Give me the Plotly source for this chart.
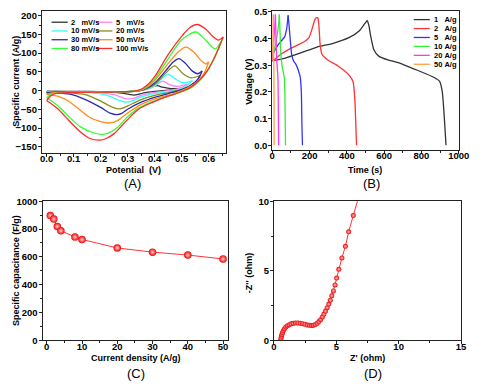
import plotly.graph_objects as go

W, H = 483, 387
F = "Liberation Sans, Arial, sans-serif"

# ---------------- Panel A: CV curves (E in V, I in A/g) ----------------
cv_rates = ["2", "5", "10", "20", "30", "50", "80", "100"]
cv_colors = ["#333333", "#FF80FF", "#33FFFF", "#8C8C1E", "#2B2BB0", "#FF8C1A", "#33FF33", "#FF2A2A"]

cv2_fwd_E = [0, 0.3, 0.34, 0.37, 0.39, 0.41, 0.43, 0.46, 0.5]
cv2_fwd_I = [-2, -3, -1, 4, 10, 13, 9, 5, 6]
cv2_rev_E = [0.5, 0.46, 0.4, 0.36, 0.335, 0.324, 0.305, 0.27, 0.22, 0.15, 0]
cv2_rev_I = [6, 2, -2, -6, -11, -12, -10, -6, -3, -2, -2]

cv5_fwd_E = [0, 0.3, 0.34, 0.37, 0.4, 0.43, 0.455, 0.485, 0.52]
cv5_fwd_I = [-3, -3, -1, 3, 12, 25, 16, 11, 17]
cv5_rev_E = [0.52, 0.49, 0.45, 0.4, 0.35, 0.32, 0.303, 0.28, 0.25, 0.2, 0.15, 0]
cv5_rev_I = [17, 5, 0, -5, -13, -21, -23, -19, -11, -6, -4, -3]

cv10_fwd_E = [0, 0.03, 0.3, 0.34, 0.37, 0.4, 0.43, 0.45, 0.475, 0.505, 0.54]
cv10_fwd_I = [-4, -3, -3, -1, 4, 13, 35, 44, 32, 21, 26]
cv10_rev_E = [0.54, 0.51, 0.46, 0.4, 0.35, 0.32, 0.296, 0.27, 0.24, 0.2, 0.15, 0.1, 0]
cv10_rev_I = [26, 9, -2, -8, -17, -27, -31, -27, -17, -9, -5, -4, -4]

cv20_fwd_E = [0, 0.03, 0.3, 0.34, 0.37, 0.4, 0.44, 0.475, 0.505, 0.535, 0.57]
cv20_fwd_I = [-5, -4, -3, -1, 5, 16, 46, 66, 45, 34, 41]
cv20_rev_E = [0.57, 0.55, 0.51, 0.46, 0.4, 0.35, 0.3, 0.274, 0.245, 0.2, 0.15, 0.1, 0.05, 0]
cv20_rev_I = [41, 22, 6, -4, -13, -24, -41, -49, -45, -28, -12, -7, -5, -5]

cv30_fwd_E = [0, 0.03, 0.2, 0.3, 0.34, 0.37, 0.4, 0.44, 0.47, 0.49, 0.515, 0.54, 0.56, 0.576]
cv30_fwd_I = [-6, -4, -3, -3, -1, 6, 20, 52, 77, 85.5, 72, 52, 45, 52]
cv30_rev_E = [0.576, 0.56, 0.53, 0.49, 0.45, 0.4, 0.35, 0.3, 0.28, 0.26, 0.235, 0.2, 0.15, 0.1, 0.05, 0]
cv30_rev_I = [52, 30, 12, 0, -8, -18, -31, -50, -60, -64, -60, -45, -26, -12, -7, -6]

cv50_fwd_E = [0, 0.02, 0.06, 0.2, 0.3, 0.34, 0.37, 0.4, 0.45, 0.49, 0.516, 0.545, 0.57, 0.59, 0.6]
cv50_fwd_I = [-10, -6, -4, -3, -3, -1, 8, 27, 72, 105, 116, 103, 82, 71, 77]
cv50_rev_E = [0.6, 0.585, 0.56, 0.52, 0.47, 0.4, 0.35, 0.3, 0.26, 0.234, 0.2, 0.16, 0.12, 0.08, 0.04, 0]
cv50_rev_I = [77, 48, 25, 6, -8, -22, -37, -60, -81, -86.5, -83, -72, -50, -28, -15, -10]

cv80_fwd_E = [0, 0.015, 0.05, 0.15, 0.28, 0.33, 0.354, 0.378, 0.402, 0.45, 0.5, 0.552, 0.585, 0.624, 0.654]
cv80_fwd_I = [-19, -10, -6, -4, -3, -1, 4, 15, 33, 85, 135, 156.5, 138, 111.5, 142]
cv80_rev_E = [0.654, 0.642, 0.618, 0.594, 0.57, 0.534, 0.486, 0.45, 0.39, 0.34, 0.3, 0.26, 0.23, 0.208, 0.17, 0.125, 0.08, 0.04, 0.013, 0]
cv80_rev_I = [142, 120, 81, 50, 29, 7, -7, -15, -30, -47, -70, -100, -113, -117, -112, -97, -68, -40, -25, -19]

cv100_fwd_E = [0, 0.015, 0.04, 0.1, 0.2, 0.28, 0.33, 0.354, 0.378, 0.402, 0.45, 0.504, 0.53, 0.558, 0.59, 0.615, 0.636, 0.654]
cv100_fwd_I = [-27, -14, -7, -5, -4, -3, -1, 5, 18, 39, 96, 148, 168, 176.5, 164, 145, 135, 143.5]
cv100_rev_E = [0.654, 0.642, 0.618, 0.594, 0.57, 0.534, 0.486, 0.45, 0.39, 0.34, 0.29, 0.25, 0.22, 0.198, 0.16, 0.121, 0.08, 0.04, 0.013, 0]
cv100_rev_I = [143.5, 122, 83, 52, 31, 9, -6.5, -15, -32, -50, -85, -115, -128, -132.5, -128, -108, -78, -48, -33, -27]

cv_data = [
    (cv2_fwd_E, cv2_fwd_I, cv2_rev_E, cv2_rev_I),
    (cv5_fwd_E, cv5_fwd_I, cv5_rev_E, cv5_rev_I),
    (cv10_fwd_E, cv10_fwd_I, cv10_rev_E, cv10_rev_I),
    (cv20_fwd_E, cv20_fwd_I, cv20_rev_E, cv20_rev_I),
    (cv30_fwd_E, cv30_fwd_I, cv30_rev_E, cv30_rev_I),
    (cv50_fwd_E, cv50_fwd_I, cv50_rev_E, cv50_rev_I),
    (cv80_fwd_E, cv80_fwd_I, cv80_rev_E, cv80_rev_I),
    (cv100_fwd_E, cv100_fwd_I, cv100_rev_E, cv100_rev_I),
]

# ---------------- Panel B: charge-discharge (t in s, V) ----------------
gcd_labels = ["1", "2", "5", "10", "20", "50"]
gcd_colors = ["#333333", "#FF3333", "#3333FF", "#33EE33", "#FF33FF", "#FFA040"]

gcd1_ch_t = [0, 66, 153, 240, 327, 414, 466, 495, 510]
gcd1_ch_V = [0.317, 0.326, 0.346, 0.368, 0.382, 0.404, 0.428, 0.455, 0.468]
gcd1_dis_t = [510, 518, 527, 545, 571, 620, 675, 779, 866, 897, 912, 925, 932]
gcd1_dis_V = [0.468, 0.45, 0.413, 0.358, 0.334, 0.32, 0.31, 0.281, 0.255, 0.24, 0.2, 0.08, 0.0]

gcd2_ch_t = [0, 49, 101, 171, 197, 214, 228, 238, 245]
gcd2_ch_V = [0.315, 0.342, 0.364, 0.388, 0.403, 0.437, 0.47, 0.478, 0.478]
gcd2_dis_t = [245, 250, 257, 266, 292, 353, 414, 434, 443, 449, 452]
gcd2_dis_V = [0.478, 0.45, 0.376, 0.342, 0.322, 0.297, 0.261, 0.237, 0.17, 0.06, 0.0]

gcd5_ch_t = [0, 10, 31, 66, 78, 85]
gcd5_ch_V = [0.33, 0.35, 0.376, 0.406, 0.44, 0.487]
gcd5_dis_t = [85, 90, 96, 104, 115, 127, 140, 150, 156, 159, 162]
gcd5_dis_V = [0.487, 0.45, 0.4, 0.34, 0.315, 0.303, 0.28, 0.255, 0.2, 0.08, 0.0]

gcd10_ch_t = [0, 8, 18, 28, 35, 38]
gcd10_ch_V = [0.32, 0.35, 0.38, 0.42, 0.46, 0.49]
gcd10_dis_t = [38, 42, 46, 52, 60, 65, 68, 70, 71]
gcd10_dis_V = [0.49, 0.42, 0.34, 0.3, 0.27, 0.25, 0.18, 0.06, 0.0]

gcd20_ch_t = [0, 5, 10, 14, 17]
gcd20_ch_V = [0.32, 0.36, 0.41, 0.45, 0.49]
gcd20_dis_t = [17, 20, 24, 28, 31, 33, 34]
gcd20_dis_V = [0.49, 0.4, 0.32, 0.28, 0.24, 0.1, 0.0]

gcd50_ch_t = [0, 2, 4, 5.5]
gcd50_ch_V = [0.32, 0.38, 0.44, 0.49]
gcd50_dis_t = [5.5, 7, 8.5, 9.5, 10]
gcd50_dis_V = [0.49, 0.38, 0.3, 0.2, 0.0]

gcd_data = [
    (gcd1_ch_t, gcd1_ch_V, gcd1_dis_t, gcd1_dis_V),
    (gcd2_ch_t, gcd2_ch_V, gcd2_dis_t, gcd2_dis_V),
    (gcd5_ch_t, gcd5_ch_V, gcd5_dis_t, gcd5_dis_V),
    (gcd10_ch_t, gcd10_ch_V, gcd10_dis_t, gcd10_dis_V),
    (gcd20_ch_t, gcd20_ch_V, gcd20_dis_t, gcd20_dis_V),
    (gcd50_ch_t, gcd50_ch_V, gcd50_dis_t, gcd50_dis_V),
]

# ---------------- Panel C: rate capability ----------------
current_density = [1, 2, 3, 4, 8, 10, 20, 30, 40, 50]
capacitance = [897, 872, 818, 788, 743, 725, 664, 634, 613, 585]

# ---------------- Panel D: Nyquist ----------------
z_real = [0.55, 0.57, 0.6, 0.64, 0.69, 0.76, 0.85, 0.96, 1.08, 1.22, 1.38, 1.55, 1.73, 1.92, 2.11, 2.3, 2.49, 2.68, 2.86,
          3.02, 3.17, 3.32, 3.47, 3.61, 3.75, 3.88, 4.01, 4.14, 4.27, 4.4, 4.52, 4.64, 4.77, 4.9, 5.03, 5.2, 5.45, 5.73,
          5.99, 6.36, 6.85]
z_imag = [0.0, 0.14, 0.28, 0.42, 0.56, 0.7, 0.83, 0.95, 1.05, 1.12, 1.18, 1.22, 1.24, 1.24, 1.22, 1.19, 1.15, 1.1, 1.07,
          1.06, 1.08, 1.13, 1.22, 1.34, 1.5, 1.68, 1.88, 2.1, 2.34, 2.6, 2.88, 3.2, 3.55, 3.98, 4.47, 5.1, 5.92, 6.76,
          7.8, 8.97, 10.5]

fig = go.Figure()

for rate, col, (fE, fI, rE, rI) in zip(cv_rates, cv_colors, cv_data):
    fig.add_trace(go.Scatter(
        x=fE + [None] + rE, y=fI + [None] + rI, mode="lines", name=rate + " mV/s",
        line=dict(color=col, width=1.3, shape="spline", smoothing=0.8),
        xaxis="x", yaxis="y", showlegend=False))

for lab, col, (ct, cV, dt, dV) in zip(gcd_labels, gcd_colors, gcd_data):
    fig.add_trace(go.Scatter(
        x=ct + [None] + dt, y=cV + [None] + dV, mode="lines", name=lab + " A/g",
        line=dict(color=col, width=1.3, shape="spline", smoothing=0.5),
        xaxis="x2", yaxis="y2", showlegend=False))

fig.add_trace(go.Scatter(
    x=current_density, y=capacitance, mode="lines+markers",
    line=dict(color="#FF3333", width=1),
    marker=dict(color="#EE0000", size=7.5, gradient=dict(type="radial", color="#FFD0D0"),
                line=dict(width=0)),
    xaxis="x3", yaxis="y3", showlegend=False))

fig.add_trace(go.Scatter(
    x=z_real, y=z_imag, mode="lines+markers",
    line=dict(color="#FF3333", width=1),
    marker=dict(color="#EE0000", size=5, gradient=dict(type="radial", color="#FFC0C0"),
                line=dict(width=0)),
    xaxis="x4", yaxis="y4", showlegend=False))


def px(x):
    return x / W


def py(y):
    return 1 - y / H


def ax(domain, rng, dtick, minor, fmt=None, standoff=0):
    d = dict(domain=domain, range=rng, dtick=dtick, tick0=0,
             showline=True, linecolor="#222222", linewidth=1, mirror=True,
             ticks="outside", ticklen=3, tickwidth=1, tickcolor="#222222",
             showgrid=False, zeroline=False, ticklabelstandoff=standoff,
             tickfont=dict(family=F, size=9.5, color="black", weight="bold"),
             minor=dict(dtick=minor, ticks="outside", ticklen=2, tickwidth=1,
                        tickcolor="#222222", showgrid=False))
    if fmt:
        d["tickformat"] = fmt
    return d


fig.update_layout(
    width=W, height=H, margin=dict(l=0, r=0, t=0, b=0),
    paper_bgcolor="white", plot_bgcolor="white",
    xaxis=ax([px(40), px(229.5)], [-0.018, 0.664], 0.1, 0.05, ".1f", -6),
    yaxis=ax([py(151), py(5)], [-166, 213], 50, 25, None, -1),
    xaxis2=ax([px(277.3), px(469.3)], [0, 1000], 200, 100, None, -6),
    yaxis2=ax([py(148), py(5)], [-0.017, 0.5036], 0.1, 0.05, ".1f", -1),
    xaxis3=ax([px(40.7), px(231.7)], [-1.2, 51.4], 10, 5, None, -6),
    yaxis3=ax([py(344), py(201)], [0, 1000], 200, 100, None, -1),
    xaxis4=ax([px(279), px(471.7)], [0, 15], 5, 2.5, None, -6),
    yaxis4=ax([py(344), py(201)], [0, 10], 5, 2.5, None, -1),
)
for k in ["yaxis", "yaxis2", "yaxis3", "yaxis4"]:
    fig.layout[k].anchor = "x" + k[5:]
for k in ["xaxis", "xaxis2", "xaxis3", "xaxis4"]:
    fig.layout[k].anchor = "y" + k[5:]

ann = []
shapes = []


def text(x, y, s, size=9, angle=0, anchor="center", bold=True):
    ann.append(dict(x=px(x), y=py(y), xref="paper", yref="paper", text=s, showarrow=False,
                    textangle=angle, xanchor=anchor, yanchor="middle",
                    font=dict(family=F, size=size, color="black", weight="bold" if bold else "normal")))


text(13.3, 77, "Specific current (A/g)", angle=-90)
text(134.7, 168.5, "Potential\u00a0\u00a0(V)")
text(133, 183, "(A)", size=13, bold=False)
text(253.3, 78, "Voltage (V)", angle=-90)
text(372.3, 168.5, "Time (s)")
text(380, 183, "(B)", size=13, bold=False)
text(13.3, 271.7, "Specific capacitance (F/g)", angle=-90)
text(137.3, 362, "Current density (A/g)")
text(136.7, 378, "(C)", size=13, bold=False)
text(253.3, 275, "-Z'' (ohm)", angle=-90)
text(375, 362, "Z' (ohm)")
text(380.7, 378, "(D)", size=13, bold=False)

# legend for panel A (two columns)
leg_rows = [16.7, 25.7, 34.7, 43.7]
for i, (rate, col) in enumerate(zip(cv_rates, cv_colors)):
    r, c = i // 2, i % 2
    x0 = 50 if c == 0 else 96
    yrow = leg_rows[r]
    shapes.append(dict(type="line", xref="paper", yref="paper", x0=px(x0), x1=px(x0 + 16.7),
                       y0=py(yrow), y1=py(yrow), line=dict(color=col, width=1.3)))
    lab = rate + ("\u00a0\u00a0\u00a0" if len(rate) == 1 else "\u00a0") + "mV/s"
    text(x0 + 18.3, yrow, lab, size=7.5, anchor="left")

# legend for panel B
leg_rows_b = [14, 23.2, 32.4, 41.6, 50.8, 60]
for lab, col, yrow in zip(gcd_labels, gcd_colors, leg_rows_b):
    shapes.append(dict(type="line", xref="paper", yref="paper", x0=px(423), x1=px(439.5),
                       y0=py(yrow), y1=py(yrow), line=dict(color=col, width=1.3)))
    s = lab + ("\u00a0\u00a0\u00a0" if len(lab) == 1 else "\u00a0") + "A/g"
    text(442, yrow, s, size=7.5, anchor="left")

fig.update_layout(annotations=ann, shapes=shapes)
fig.write_html("out.html", config={"displayModeBar": False},
               post_script="document.body.style.margin='0';document.body.style.padding='0';")
